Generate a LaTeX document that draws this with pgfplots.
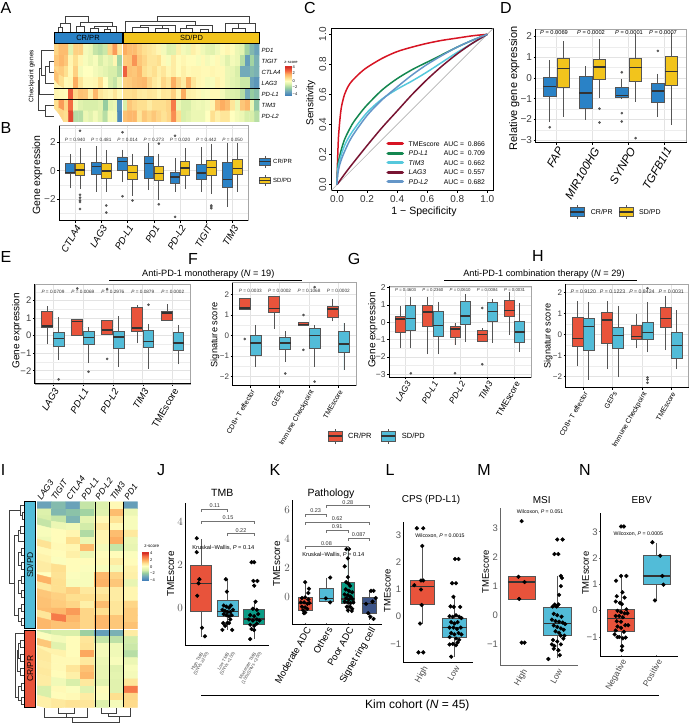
\documentclass[border=0pt]{standalone}
\usepackage{fontspec}
\setmainfont{Liberation Sans}
\usepackage{pgfplots}
\usepgfplotslibrary{statistics}
\pgfplotsset{compat=1.18}

\definecolor{cB}{HTML}{2A82C6}
\definecolor{cY}{HTML}{F2C41C}
\definecolor{cR}{HTML}{E8533B}
\definecolor{cC}{HTML}{52BCD8}
\definecolor{cT}{HTML}{0A9C86}
\definecolor{cN}{HTML}{3C5488}
\definecolor{boxln}{HTML}{555555}

\newcommand{\fs}[1]{\fontsize{#1}{#1}\selectfont}

\pgfplotsset{
  colormap={hm}{rgb255(0)=(69,130,185) rgb255(1)=(115,170,185) rgb255(2)=(150,205,160) rgb255(3)=(217,239,170)
    rgb255(4)=(255,255,191) rgb255(5)=(254,224,144) rgb255(6)=(253,174,97) rgb255(7)=(244,109,67) rgb255(8)=(215,48,39)},
  geom/.code n args={4}{%
    \pgfmathsetmacro\gw{#3-#1}\pgfmathsetmacro\gh{#4-#2}\pgfmathsetmacro\gy{723-#4}%
    \edef\tmp{\noexpand\pgfplotsset{scale only axis,anchor=south west,at={(#1pt,\gy pt)},width=\gw pt,height=\gh pt}}\tmp},
  base/.style={tick align=outside,major tick length=2pt,minor tick length=0pt,
    tick style={black,line width=.5pt},xtick pos=bottom,ytick pos=left,
    yticklabel style={inner sep=1.5pt}},
  rotx/.style={xticklabel style={rotate=60,anchor=north east,inner sep=1pt}},
  gridded/.style={base,rotx,xmajorgrids,ymajorgrids,yminorgrids,
    major grid style={black!11,line width=.7pt},minor grid style={black!7,line width=.4pt},
    axis line style={black!35,line width=.8pt},
    extra description/.code={\draw[black,line width=1pt] (rel axis cs:0,1)--(rel axis cs:0,0)--(rel axis cs:1,0);},
    boxplot/draw direction=y,boxplot/box extend=0.36,boxplot/whisker extend=0},
  clean/.style={base,rotx,axis lines=left,axis line style={-,black,line width=.9pt},major tick length=1.5pt,
    tick style={black!60},yticklabel style={black!65},xticklabel style={black!70},
    boxplot/draw direction=y,boxplot/box extend=0.77,boxplot/whisker extend=0},
  heat/.style={hide axis,enlargelimits=false,colormap name=hm,point meta min=-4,point meta max=4,y dir=reverse},
  outl/.style={only marks,mark=*,mark size=1.1pt,boxln,mark options={draw=boxln,fill=boxln}},
  dots/.style={only marks,mark=*,mark size=1.9pt,mark options={draw=black,fill=black}},
  dend/.style={black!75,line width=.55pt,unbounded coords=jump},
  rocl/.style={smooth,line width=1.5pt},
}

% box: position, whiskers and quartiles, then fill
\newcommand{\bx}[8][]{\addplot[draw=boxln,line width=.8pt,fill=#8,
  boxplot prepared={draw direction=y,draw position=#2,lower whisker=#3,lower quartile=#4,median=#5,upper quartile=#6,upper whisker=#7,
  every median/.style={draw=black!80,line width=1.3pt},#1}] coordinates {};}
\newcommand{\pv}[4][4.7]{\node[font=\fs{#1},black!80] at (axis cs:#2,#3) {{\itshape P} = #4};}
\newcommand{\rect}[5]{\addplot[#5] coordinates {(#1,#2)(#3,#2)(#3,#4)(#1,#4)} -- cycle;}
\newcommand{\brk}[4]{\addplot[black!55,line width=.8pt] coordinates {(#1,#3+2.5)(#1,#3)(#2,#3)(#2,#3+2.5)};
  \node[font=\fs{5.5},black!80] at (axis cs:{(#1+#2)/2},{#3-3.3}) {#4};}
\newcommand{\txt}[4][]{\node[inner sep=0pt,#1] at (axis cs:#2,#3) {#4};}

\begin{document}
\begin{tikzpicture}
\path[use as bounding box] (0pt,0pt) rectangle (689pt,723pt);

% A heatmap: 14 CR/PR then 28 SD/PD columns
\begin{axis}[heat,geom={54}{44}{259.5}{122},xmin=-.5,xmax=41.5,ymin=-.5,ymax=6.5]
\addplot[matrix plot*,mesh/cols=42,point meta=\thisrow{z}] table[row sep=\\,x expr={mod(\coordindex,42)},y expr={floor(\coordindex/42)}]{
z\\
1.2\\1.7\\1.7\\-0.8\\1.3\\1.3\\-0.3\\-0.5\\-1.3\\-1.5\\-1.2\\1.2\\2.3\\0.8\\
2.0\\1.7\\1.7\\1.3\\1.0\\0.8\\0.6\\0.3\\-0.3\\-0.9\\-0.8\\0.5\\-0.3\\-0.5\\0.5\\0.2\\-0.4\\-0.7\\-0.8\\-0.4\\0.1\\0.3\\0.1\\-0.5\\-0.7\\-1.8\\-2.6\\-3.2\\
1.5\\1.8\\1.5\\0.3\\1.0\\0.3\\-0.2\\-0.5\\-0.2\\-1.0\\-0.5\\-0.8\\0.3\\-1.8\\
1.4\\1.5\\2.4\\1.5\\1.2\\0.8\\0.8\\1.0\\0.2\\-0.2\\0.6\\0.1\\0.3\\0.1\\0.1\\-0.2\\0.2\\-0.3\\-0.1\\0.2\\-0.3\\-0.8\\-0.3\\-0.5\\-1.5\\-3.3\\-1.8\\-2.8\\
1.2\\1.4\\1.0\\0.2\\1.3\\-0.3\\0\\0\\-0.3\\-0.5\\-0.7\\-1\\-1\\-1.5\\
3.2\\1.6\\1.5\\1.8\\1.0\\0.7\\1\\0.5\\0.8\\0.3\\0.6\\0.1\\0.5\\0.2\\0.3\\0.3\\0.2\\0.2\\0.3\\0.2\\0.2\\-0.5\\-0.6\\-1\\-3\\-3\\-2.5\\-2.8\\
1.6\\1.0\\0.2\\0.3\\2.0\\0.8\\0.2\\0.2\\0.3\\1\\0\\-1\\-1.3\\-0.5\\
1.3\\1.4\\1.6\\1.7\\1.8\\1.2\\0.7\\0.4\\1.2\\0.8\\2\\1.2\\0.6\\1.9\\0.8\\0.3\\0.2\\-0.3\\-0.2\\0.4\\0.2\\-0.5\\-0.7\\-0.9\\-1.2\\-1.2\\-3.2\\-3.5\\
0.3\\0.2\\0.1\\3.3\\1.2\\1.6\\1.5\\0.5\\1.8\\0.8\\0.5\\0.3\\0.8\\0.2\\
1\\1\\1.1\\0.7\\0.6\\0.8\\0.7\\0.3\\0.8\\0.7\\1.3\\0.3\\2\\0.5\\0.4\\0.2\\-0.2\\-0.1\\0.2\\0.2\\-0.3\\-0.8\\-0.9\\-1\\-1.5\\-3\\-2\\-2.4\\
1.0\\2.3\\1.2\\3\\-0.3\\-0.8\\-1\\-1\\-1\\-0.8\\-2\\-0.7\\-0.5\\-3.5\\
-1\\1.5\\1.2\\1\\1\\0.6\\1\\1\\1\\1.2\\2.8\\-0.5\\-1\\-1\\-0.5\\-0.4\\-0.5\\-0.3\\0.3\\1.6\\2\\1.7\\0.8\\-0.5\\1.5\\1.8\\-0.5\\-2.2\\
1.0\\1.2\\1\\3.6\\-1.5\\-1.5\\-0.5\\-0.8\\-0.3\\-0.8\\-1.5\\-0.3\\-0.3\\-3.8\\
1.6\\1.8\\1.8\\0.8\\1.5\\1.2\\1.5\\1.2\\0.9\\1.2\\2.5\\1\\-1\\-0.8\\-0.5\\-0.5\\-0.5\\0\\1\\0.5\\0.8\\0.8\\0\\-0.3\\-0.5\\-1\\-1\\-1.5\\
};
\end{axis}

% I heatmap: 18 SD/PD then 11 CR/PR rows
\begin{axis}[heat,geom={37}{501.7}{137.7}{707.3},xmin=-.5,xmax=6.5,ymin=-.5,ymax=28.5]
\addplot[matrix plot*,mesh/cols=7,point meta=\thisrow{z}] table[row sep=\\,x expr={mod(\coordindex,7)},y expr={floor(\coordindex/7)}]{
z\\
-3.2\\-2.5\\-3.2\\-1.3\\-0.9\\0.2\\-3.3\\
-0.9\\-2.6\\-2.3\\-1.8\\-0.8\\1.7\\-0.5\\
-1\\-1.3\\-2.7\\-0.7\\0.2\\0.9\\-0.2\\
-1.3\\-0.5\\-0.4\\-1.1\\0.7\\0.2\\-0.2\\
-0.2\\0.1\\0.3\\-1.6\\0.3\\1.7\\0.7\\
-0.4\\0.1\\1\\-0.5\\0.3\\2\\-0.5\\
0.9\\0.2\\0.3\\1.7\\-0.3\\-1.3\\-0.6\\
0.2\\0.1\\0.5\\-0.5\\0.1\\0.1\\-0.1\\
0.4\\-0.1\\0.1\\0.1\\0.2\\0.6\\0.1\\
0.6\\1\\0.1\\-0.1\\-0.2\\-0.3\\0.4\\
0\\0.9\\-0.1\\-0.2\\1.8\\1.2\\0.5\\
1.9\\1\\-0.2\\-0.2\\1.9\\1.5\\-0.6\\
0.7\\1\\1.3\\0.7\\0.7\\0.6\\0.3\\
1.5\\1.3\\1\\1\\1\\0.6\\0.3\\
1.6\\1.4\\1.2\\0.5\\1.7\\0.8\\1.2\\
1.7\\1.8\\2.3\\1.2\\1\\0.8\\1.4\\
0.8\\2.8\\1.8\\1.2\\1.8\\1.5\\1.4\\
1.8\\1.6\\1.6\\1.2\\1.8\\1.5\\1.6\\
-1.2\\-1\\-1\\-1.9\\-3.3\\-2.8\\0.6\\
-0.1\\-0.3\\0.1\\0.8\\-1.3\\-1.4\\-1.1\\
1.5\\-0.8\\0.1\\0.9\\-0.3\\-0.4\\-1.2\\
0.4\\0.4\\0.1\\2.1\\-0.3\\-0.4\\-1.5\\
0.7\\0.2\\0.2\\0.7\\-0.5\\-0.2\\-0.5\\
0.6\\0.2\\0.8\\1.6\\-0.6\\-0.8\\-0.2\\
0.7\\0.1\\0.5\\1.8\\-0.6\\-0.7\\-0.3\\
0.6\\-0.4\\-1\\0.7\\-0.8\\-0.8\\0.8\\
-1\\0.2\\-0.1\\-0.8\\0.1\\-0.8\\2.8\\
-1\\0.1\\0.2\\0.6\\-0.1\\1\\1.2\\
0.5\\0.7\\0.9\\0.8\\-0.9\\-0.3\\1.1\\
};
\end{axis}

% z-score bars
\begin{axis}[hide axis,enlargelimits=false,colormap name=hm,point meta min=-4,point meta max=4,geom={285}{66}{291}{96},xmin=0,xmax=1,ymin=-4.4,ymax=4.4]
\addplot[surf,shader=interp,mesh/cols=2,point meta=y] coordinates {(0,-4.4)(1,-4.4)(0,-4)(1,-4)(0,-3)(1,-3)(0,-2)(1,-2)(0,-1)(1,-1)(0,0)(1,0)(0,1)(1,1)(0,2)(1,2)(0,3)(1,3)(0,4)(1,4)(0,4.4)(1,4.4)};
\end{axis}
\begin{axis}[hide axis,enlargelimits=false,colormap name=hm,point meta min=-4,point meta max=4,geom={141.7}{551.7}{148.7}{581},xmin=0,xmax=1,ymin=-4.4,ymax=4.4]
\addplot[surf,shader=interp,mesh/cols=2,point meta=y] coordinates {(0,-4.4)(1,-4.4)(0,-4)(1,-4)(0,-3)(1,-3)(0,-2)(1,-2)(0,-1)(1,-1)(0,0)(1,0)(0,1)(1,1)(0,2)(1,2)(0,3)(1,3)(0,4)(1,4)(0,4.4)(1,4.4)};
\end{axis}

% B
\begin{axis}[gridded,geom={59.3}{125.7}{248.3}{220.7},xmin=.4,xmax=7.6,ymin=-3.52,ymax=3.16,
  xtick={1,...,7},xticklabels={CTLA4,LAG3,PD-L1,PD1,PD-L2,TIGIT,TIM3},ytick={-2,0,2},yticklabels={−2,0,2},minor ytick={-3,-1,1,3},
  xticklabel style={font=\fs{9.5}\itshape},yticklabel style={font=\fs{10},black!70}]
\bx{.81}{-1.25}{-.2}{-.15}{.53}{1.14}{cB}
\bx{1.19}{-1.3}{-.33}{.05}{.49}{1.6}{cY}
\bx{1.81}{-1.5}{-.28}{.27}{.6}{1.72}{cB}
\bx{2.19}{-1.5}{-.58}{-.02}{.53}{1.46}{cY}
\bx{2.81}{-.8}{0}{.66}{.95}{1.47}{cB}
\bx{3.19}{-1.8}{-.63}{-.13}{.37}{1.2}{cY}
\bx{3.81}{-1.37}{-.56}{.52}{1}{1.93}{cB}
\bx{4.19}{-2.05}{-.67}{-.2}{.33}{1.2}{cY}
\bx{4.81}{-1.5}{-.9}{-.45}{-.1}{.9}{cB}
\bx{5.19}{-1.3}{-.33}{.18}{.65}{1.6}{cY}
\bx{5.81}{-1.5}{-.63}{-.17}{.42}{1.65}{cB}
\bx{6.19}{-1.65}{-.37}{.2}{.72}{1.9}{cY}
\bx{6.81}{-2.55}{-1.2}{-.6}{.55}{1.93}{cB}
\bx{7.19}{-1.5}{-.28}{.17}{.82}{1.93}{cY}
\addplot[outl] coordinates {(1.19,2.8)(1.19,-1.7)(1.19,-1.9)(1.19,-2.1)(1.19,-2.2)(1.19,-2.7)(2.19,-2.45)(2.19,-2.95)(2.81,2.7)(2.81,-1.8)(3.19,-2.1)(4.19,1.9)(4.19,-2.37)(4.81,2.45)(4.81,-3.25)(6.19,-2.45)(6.19,-2.55)(6.19,-2.65)};
\pv{1}{2.19}{0.940}\pv{2}{2.19}{0.481}\pv{3}{2.19}{0.014}\pv{4}{2.19}{0.273}\pv{5}{2.19}{0.020}\pv{6}{2.19}{0.442}\pv{7}{2.19}{0.050}
\end{axis}

% C
\begin{axis}[base,geom={331}{28.3}{493.3}{190.7},xmin=-.04,xmax=1.04,ymin=-.04,ymax=1.04,axis line style={black,line width=.9pt},
  xtick={0,.2,.4,.6,.8,1},ytick={0,.2,.4,.6,.8,1},xticklabels={0.0,0.2,0.4,0.6,0.8,1.0},yticklabels={0.0,0.2,0.4,0.6,0.8,1.0},
  xticklabel style={anchor=north,font=\fs{10},black!80,inner sep=2.5pt},
  yticklabel style={rotate=90,anchor=south,font=\fs{10},black!80,inner sep=2.5pt}]
\addplot[black!30,line width=.6pt] coordinates {(-.04,-.04)(1.04,1.04)};
\addplot[rocl,color={rgb,255:red,215;green,20;blue,35}] coordinates {(0,0)(.002,.1)(.005,.2)(.01,.32)(.02,.44)(.03,.52)(.05,.6)(.075,.655)(.1,.69)(.15,.74)(.2,.78)(.3,.84)(.4,.885)(.5,.915)(.6,.94)(.7,.96)(.8,.975)(.9,.99)(1,1)};
\addplot[rocl,color={rgb,255:red,20;green,135;blue,80}] coordinates {(0,0)(.005,.12)(.02,.2)(.05,.3)(.1,.4)(.15,.47)(.2,.53)(.3,.63)(.4,.705)(.5,.765)(.6,.815)(.7,.865)(.8,.915)(.9,.96)(1,1)};
\addplot[rocl,color={rgb,255:red,85;green,200;blue,220}] coordinates {(0,0)(.005,.1)(.02,.17)(.05,.26)(.1,.35)(.2,.48)(.3,.57)(.4,.635)(.5,.69)(.6,.75)(.7,.815)(.8,.88)(.9,.94)(1,1)};
\addplot[rocl,color={rgb,255:red,120;green,20;blue,50}] coordinates {(0,0)(.05,.07)(.1,.135)(.2,.26)(.3,.38)(.4,.49)(.5,.6)(.6,.7)(.7,.79)(.8,.87)(.9,.94)(1,1)};
\addplot[rocl,color={rgb,255:red,100;green,150;blue,200}] coordinates {(0,0)(.005,.07)(.02,.14)(.05,.22)(.1,.32)(.2,.46)(.3,.565)(.4,.65)(.5,.73)(.6,.8)(.7,.86)(.8,.915)(.9,.96)(1,1)};
\addplot[line width=3.4pt,line cap=round,color={rgb,255:red,215;green,20;blue,35}] coordinates {(.34,.272)(.435,.272)};
\addplot[line width=3.4pt,line cap=round,color={rgb,255:red,20;green,135;blue,80}] coordinates {(.34,.208)(.435,.208)};
\addplot[line width=3.4pt,line cap=round,color={rgb,255:red,85;green,200;blue,220}] coordinates {(.34,.146)(.435,.146)};
\addplot[line width=3.4pt,line cap=round,color={rgb,255:red,120;green,20;blue,50}] coordinates {(.34,.082)(.435,.082)};
\addplot[line width=3.4pt,line cap=round,color={rgb,255:red,100;green,150;blue,200}] coordinates {(.34,.02)(.435,.02)};
\txt[anchor=west,font=\fs{6.8}]{.476}{.272}{TMEscore}\txt[anchor=west,font=\fs{6.8}\itshape]{.476}{.208}{PD-L1}\txt[anchor=west,font=\fs{6.8}\itshape]{.476}{.146}{TIM3}\txt[anchor=west,font=\fs{6.8}\itshape]{.476}{.082}{LAG3}\txt[anchor=west,font=\fs{6.8}\itshape]{.476}{.02}{PD-L2}
\txt[anchor=west,font=\fs{6.8}]{.71}{.272}{AUC =\ \ 0.866}\txt[anchor=west,font=\fs{6.8}]{.71}{.208}{AUC =\ \ 0.709}\txt[anchor=west,font=\fs{6.8}]{.71}{.146}{AUC =\ \ 0.662}\txt[anchor=west,font=\fs{6.8}]{.71}{.082}{AUC =\ \ 0.557}\txt[anchor=west,font=\fs{6.8}]{.71}{.02}{AUC =\ \ 0.682}
\end{axis}

% D
\begin{axis}[gridded,geom={535.7}{29.3}{686.7}{142.7},xmin=.42,xmax=4.61,ymin=-3.12,ymax=2.34,
  xtick={1,...,4},xticklabels={FAP,MIR100HG,SYNPO,TGFB1I1},ytick={-3,...,2},yticklabels={−3,−2,−1,0,1,2},minor ytick={-2.5,-1.5,-.5,.5,1.5},
  xticklabel style={font=\fs{11.5}\itshape},yticklabel style={font=\fs{10},black!75},boxplot/box extend=.35]
\bx{.81}{-2.13}{-.87}{-.43}{0}{.85}{cB}
\bx{1.19}{-1.88}{-.47}{.45}{.93}{1.77}{cY}
\bx{1.81}{-2.02}{-1.48}{-.73}{.05}{.56}{cB}
\bx{2.19}{-.95}{-.08}{.53}{.89}{1.87}{cY}
\bx{2.81}{-1}{-.92}{-.85}{-.47}{-.03}{cB}
\bx{3.19}{-1.16}{-.19}{.5}{.93}{2.1}{cY}
\bx{3.81}{-1.88}{-1.16}{-.63}{-.27}{.2}{cB}
\bx{4.19}{-2.28}{-.35}{.3}{1.02}{2.15}{cY}
\addplot[outl] coordinates {(.81,-2.38)(2.19,-1.48)(2.19,-2.15)(2.81,.27)(2.81,-1.7)(2.81,-2.1)(3.19,-2.9)(3.81,1.3)};
\end{axis}

% E
\begin{axis}[gridded,geom={35}{284}{190.7}{384},xmin=.4,xmax=5.6,ymin=-2.76,ymax=2.95,
  xtick={1,...,5},xticklabels={LAG3,PD-L1,PD-L2,TIM3,\upshape TMEscore},ytick={-2,...,2},yticklabels={−2,−1,0,1,2},minor ytick={-2.5,-1.5,-.5,.5,1.5,2.5},
  xticklabel style={font=\fs{9.5}\itshape},yticklabel style={font=\fs{9.5},black!75}]
\bx{.81}{-.5}{.48}{.55}{1.37}{1.68}{cR}
\bx{1.19}{-1.39}{-.63}{-.15}{.19}{1.09}{cC}
\bx{1.81}{.04}{.04}{.8}{.93}{.93}{cR}
\bx{2.19}{-1.54}{-.5}{-.1}{.23}{.51}{cC}
\bx{2.81}{.06}{.06}{.33}{.86}{.86}{cR}
\bx{3.19}{-1.77}{-.72}{-.07}{.23}{1.12}{cC}
\bx{3.81}{-.44}{.27}{.43}{1.6}{1.75}{cR}
\bx{4.19}{-1.9}{-.69}{-.33}{.29}{.65}{cC}
\bx{4.81}{.9}{.9}{1.3}{1.41}{1.79}{cR}
\bx{5.19}{-1.64}{-.82}{-.42}{.19}{.61}{cC}
\addplot[outl] coordinates {(1.19,-2.5)(1.81,2.69)(2.19,-2.06)(2.81,2.66)(2.81,-1.33)(4.19,1.77)};
\pv{1}{2.5}{0.0709}\pv{2}{2.5}{0.0069}\pv{3}{2.5}{0.2976}\pv{4}{2.5}{0.0879}\pv{5}{2.5}{0.0002}
\end{axis}

% F
\begin{axis}[gridded,geom={232.7}{282.7}{356}{385.7},xmin=.4,xmax=4.6,ymin=-2.45,ymax=2.58,
  xtick={1,...,4},xticklabels={CD8+ T effector,GEPs,Immune Checkpoint,TMEscore},ytick={-2,...,2},yticklabels={−2,−1,0,1,2},minor ytick={-1.5,-.5,.5,1.5},
  xticklabel style={font=\fs{7}},yticklabel style={font=\fs{8},black!75},boxplot/box extend=.37]
\bx{.81}{1.3}{1.3}{1.35}{1.79}{1.79}{cR}
\bx{1.19}{-1.52}{-.95}{-.36}{0}{.52}{cC}
\bx{1.81}{.33}{1.13}{1.33}{1.92}{1.95}{cR}
\bx{2.19}{-1.28}{-.7}{-.36}{-.1}{.2}{cC}
\bx{2.81}{.48}{.48}{.55}{.65}{.65}{cR}
\bx{3.19}{-1.52}{-.62}{0}{.36}{.52}{cC}
\bx{3.81}{.69}{.89}{1.3}{1.43}{1.79}{cR}
\bx{4.19}{-1.69}{-.84}{-.42}{.2}{.6}{cC}
\addplot[outl] coordinates {(.81,-.17)(2.19,-1.85)(2.81,1)(2.81,-.7)(3.19,2.36)(3.19,-2.25)};
\pv{1}{2.16}{0.0033}\pv{2}{2.16}{0.0002}\pv{3}{2.16}{0.1068}\pv{4}{2.16}{0.0002}
\end{axis}

% G
\begin{axis}[gridded,geom={389.3}{286}{531}{377.3},xmin=.4,xmax=5.6,ymin=-3.17,ymax=2.1,
  xtick={1,...,5},xticklabels={LAG3,PD-L1,PD-L2,TIM3,\upshape TMEscore},ytick={-3,...,2},yticklabels={−3,−2,−1,0,1,2},minor ytick={-2.5,-1.5,-.5,.5,1.5},
  xticklabel style={font=\fs{8.5}\itshape},yticklabel style={font=\fs{8.5},black!75},boxplot/box extend=.37]
\bx{.81}{-1.5}{-.6}{.2}{.33}{.96}{cR}
\bx{1.19}{-1.5}{-.44}{.22}{.96}{1.48}{cC}
\bx{1.81}{-1.85}{-.25}{.6}{.96}{1.48}{cR}
\bx{2.19}{-1.85}{-.83}{-.2}{.65}{1.2}{cC}
\bx{2.81}{-1.3}{-.88}{-.38}{-.21}{-.06}{cR}
\bx{3.19}{-1.12}{-.1}{.37}{1.19}{1.63}{cC}
\bx{3.81}{-1.12}{-1.12}{-.72}{-.44}{-.35}{cR}
\bx{4.19}{-1.17}{.04}{.63}{1.17}{1.33}{cC}
\bx{4.81}{-.73}{.33}{.7}{1.29}{1.77}{cR}
\bx{5.19}{-1.69}{-1.15}{-.55}{.08}{1.13}{cC}
\addplot[outl] coordinates {(1.19,-2.94)(2.81,-2.94)(3.81,.83)(3.81,-2.42)};
\pv[4.3]{1}{1.87}{0.4603}\pv[4.3]{2}{1.87}{0.2360}\pv[4.3]{3}{1.87}{0.0610}\pv[4.3]{4}{1.87}{0.0084}\pv[4.3]{5}{1.87}{0.0031}
\end{axis}

% H
\begin{axis}[gridded,geom={565.7}{284}{688.8}{387.7},xmin=.4,xmax=4.6,ymin=-2.54,ymax=2.4,
  xtick={1,...,4},xticklabels={CD8+ T effector,GEPs,Immune Checkpoint,TMEscore},ytick={-2,...,2},yticklabels={−2,−1,0,1,2},minor ytick={-1.5,-.5,.5,1.5},
  xticklabel style={font=\fs{7}},yticklabel style={font=\fs{8},black!75},boxplot/box extend=.37]
\bx{.81}{-1.51}{-.59}{-.18}{.81}{1.59}{cR}
\bx{1.19}{-2.17}{-.75}{.38}{.75}{1.52}{cC}
\bx{1.81}{-1.67}{-.43}{.68}{1.05}{1.59}{cR}
\bx{2.19}{-2.05}{-.65}{-.05}{.35}{1.37}{cC}
\bx{2.81}{-.67}{-.24}{-.1}{.43}{.95}{cR}
\bx{3.19}{-.86}{-.24}{.1}{.59}{1.54}{cC}
\bx{3.81}{-.75}{.35}{.74}{1.3}{1.84}{cR}
\bx{4.19}{-1.67}{-1.14}{-.53}{.1}{1.14}{cC}
\addplot[outl] coordinates {(3.19,2.2)(3.19,-2.05)(3.19,-2.15)(3.19,-2.3)};
\pv[5.2]{1}{2.02}{0.9120}\pv[5.2]{2}{2.02}{0.1223}\pv[5.2]{3}{2.02}{0.8424}\pv[5.2]{4}{2.02}{0.0031}
\end{axis}

% J
\begin{axis}[clean,geom={185.3}{503}{269.3}{645.7},xmin=.4,xmax=3.57,ymin=-1.78,ymax=4.9,
  xtick={1,2,3},xticklabels={{High TMB\\(SNVs ≥200)},{Low TMB\\(SNVs <100)},{Moderate TMB\\(100≤SNVs <200)}},ytick={0,2,4},
  xticklabel style={font=\fs{4.5},align=center,inner sep=2pt},yticklabel style={font=\fs{11}},boxplot/box extend=.78]
\bx{1}{-1.36}{-.19}{1.14}{1.97}{3.2}{cR}
\bx{2}{-1.04}{-.39}{-.19}{.35}{1.34}{cC}
\bx{3}{-1.47}{-.78}{-.53}{-.07}{.28}{cT}
\addplot[dots] coordinates {(.83,3.25)(.83,2.6)(.93,1.33)(.9,1.14)(.85,.56)(1.03,-.94)(1.14,-1.34)
(1.93,1.33)(1.97,.75)(1.85,.1)(1.95,.05)(2.05,0)(2.12,.1)(1.8,-.1)(1.9,-.15)(2,-.2)(2.1,-.2)(2.2,-.1)(1.85,-.3)(1.95,-.35)(2.05,-.4)(2.15,-.35)(1.83,-.72)(1.98,-.72)(2.05,-.72)(2.1,-.55)(1.8,-1.04)(2.17,-1.04)(1.9,-.85)
(2.9,2.13)(3,2.13)(2.97,1.25)(3.12,1.25)(3,1.03)(3.05,.28)(2.95,-.05)(3.1,-.1)(2.85,-.35)(3,-.4)(3.15,-.3)(2.8,-.55)(2.95,-.6)(3.1,-.55)(3.2,-.6)(2.85,-.8)(3,-.85)(3.1,-.75)(2.9,-1)(3,-1.05)(2.85,-1.47)};
\end{axis}

% K
\begin{axis}[clean,geom={292.3}{500}{381.7}{624},xmin=.4,xmax=4.58,ymin=-1.9,ymax=6.7,
  xtick={1,...,4},xticklabels={Moderate ADC,Others,Poor ADC,Signet ring cell},ytick={0,2,4,6},
  xticklabel style={font=\fs{9.5},black},yticklabel style={font=\fs{11}},boxplot/box extend=.65]
\bx{1}{-1.15}{-.95}{-.46}{-.04}{.97}{cR}
\bx{2}{-.3}{-.3}{-.11}{.58}{1.32}{cC}
\bx{3}{-1.15}{-.46}{-.16}{1}{3.36}{cT}
\bx{4}{-1.62}{-1.15}{-.46}{-.07}{.4}{cN}
\addplot[dots] coordinates {(1,1)(1.18,.55)(1.15,.25)(.85,-.1)(1,-.05)(1.15,-.2)(.8,-.4)(.95,-.4)(1.1,-.5)(1.2,-.45)(.85,-.7)(1,-.75)(1.1,-.85)(.9,-.95)(1,-1.1)(.95,-1.15)
(2.17,1.32)(1.97,-.12)(2.17,-.4)
(2.93,3.3)(3.05,3.3)(3,2.65)(2.85,2.1)(3,1.35)(2.92,1)(3.02,.9)(3.1,.75)(2.9,.5)(3.05,.4)(3.2,.3)(2.85,.15)(3,.1)(3.12,0)(2.92,-.1)(3.05,-.2)(3.2,-.15)(2.85,-.35)(3,-.4)(3.12,-.45)(3.25,-.4)(2.95,-.7)(3.1,-.7)(3.2,-.85)(3,-.95)(3.18,-1)
(4.08,.4)(4.2,.4)(4.3,-.1)(3.85,-.5)(4.15,-.35)(3.95,-1.15)(4.05,-1.4)(4.2,-1.55)};
\end{axis}

% L
\begin{axis}[clean,geom={403.7}{522.3}{473.3}{662.7},xmin=.42,xmax=2.59,ymin=-1.69,ymax=3.47,
  xtick={1,2},xticklabels={High,Low},ytick={-1,...,3},yticklabels={−1,0,1,2,3},
  xticklabel style={font=\fs{8.5}},yticklabel style={font=\fs{9.5}},boxplot/box extend=.76]
\bx{1}{-.25}{.45}{1.1}{1.35}{2.63}{cR}
\bx{2}{-1.47}{-.76}{-.39}{-.06}{.77}{cC}
\addplot[dots] coordinates {(.83,3.25)(1.03,3.25)(1,2.6)(.96,1.33)(1.03,1.33)(.75,1.16)(.96,1)(.98,.43)(.93,-.25)(.88,-1.31)(1.03,-1.31)
(2.02,2.12)(2.13,2.12)(1.93,1.23)(2.05,1.23)(1.97,.73)(1.88,.38)(1.98,.36)(2.18,.36)(1.85,.02)(1.95,0)(2.05,.05)(2.15,0)(2.22,-.05)(1.9,-.2)(2,-.25)(2.1,-.2)(1.85,-.4)(1.97,-.4)(2.08,-.45)(2.2,-.4)(1.9,-.6)(2,-.65)(2.13,-.6)(2.22,-.65)(1.85,-.75)(2.05,-.8)(2.15,-.85)(1.95,-1)(2.05,-1.05)(1.85,-1.02)(2.1,-.95)(1.9,-1.47)};
\end{axis}

% M
\begin{axis}[clean,geom={500.3}{508.3}{578.3}{665.7},xmin=.4,xmax=2.59,ymin=-1.73,ymax=3.67,
  xtick={1,2},xticklabels={High,Low},ytick={-1,...,3},yticklabels={−1,0,1,2,3},axis line style={black!60},
  xticklabel style={font=\fs{8.5}},yticklabel style={font=\fs{9.5}}]
\bx{1}{.55}{.55}{1.14}{1.32}{1.32}{cR}
\bx{2}{-1.48}{-.69}{-.28}{.26}{1.36}{cC}
\addplot[dots] coordinates {(1,3.23)(.91,1.32)(1.08,1.14)(.93,.56)(1,-.94)(1.08,-.94)
(2,2.6)(2.15,2.6)(1.92,2.1)(2.03,2.1)(2.1,1.35)(2.13,1.28)(2.1,1)(2.05,.7)(1.93,.37)(2.03,.37)(1.87,.3)(1.98,.3)(1.9,.05)(2,0)(2.12,-.05)(1.85,-.15)(1.95,-.2)(2.05,-.22)(2.15,-.25)(2.22,-.3)(1.9,-.35)(2,-.4)(2.1,-.45)(2.18,-.5)(1.95,-.55)(2.05,-.6)(2.2,-.7)(2.1,-.7)(1.88,-.85)(2,-.9)(2.17,-.8)(1.85,-1)(1.92,-1.05)(2.1,-1)(1.9,-1.15)(2.03,-1.2)(1.75,-1.5)(2.07,-1.37)};
\end{axis}

% N
\begin{axis}[clean,geom={600}{513.3}{677.7}{656},xmin=.41,xmax=2.59,ymin=-1.72,ymax=3.7,
  xtick={1,2},xticklabels={Negative,Positive},ytick={-1,...,3},yticklabels={−1,0,1,2,3},
  xticklabel style={font=\fs{8.5}},yticklabel style={font=\fs{9.5}}]
\bx{1}{-1.52}{-.77}{-.29}{.06}{1.35}{cR}
\bx{2}{.37}{1}{1.32}{2.1}{2.58}{cC}
\addplot[dots] coordinates {(1,3.2)(1.08,3.2)(1,1.32)(1.15,1.32)(.86,1.14)(1.04,.7)(.88,.55)(1.1,.5)(.85,.35)(.97,.3)(1.02,.25)(1.15,.05)(.9,0)(1,-.05)(1.1,-.1)(.85,-.2)(.95,-.2)(1.05,-.25)(1.18,-.1)(.88,-.4)(1,-.42)(1.12,-.55)(1.2,-.55)(.9,-.6)(1,-.65)(.85,-.75)(1.08,-.8)(.82,-.9)(.95,-1)(1.05,-1.05)(1.13,-1.02)(.9,-1)(1.03,-1.35)(1.02,-1.5)
(1.88,2.6)(2.1,2.09)(2.16,1.32)(2.19,.99)(1.95,.39)};
\end{axis}

% page layer in reference pixels: annotation bars, dendrograms, legends, titles
\begin{axis}[hide axis,geom={0}{0}{689}{723},xmin=0,xmax=689,ymin=0,ymax=723,y dir=reverse,clip=false]
\rect{54}{32}{122}{43}{fill=cB,draw=black,line width=.7pt}
\rect{123.5}{32}{259.5}{43}{fill=cY,draw=black,line width=.7pt}
\txt[font=\fs{7.5}]{88}{37.8}{CR/PR}
\txt[font=\fs{7.5}]{191.5}{37.8}{SD/PD}
\addplot[white,line width=1.1pt] coordinates {(122.8,44)(122.8,122)};
\addplot[black,line width=1pt] coordinates {(54,88.5)(259.5,88.5)};
\addplot[black,line width=1pt] coordinates {(54,99.5)(259.5,99.5)};
\addplot[dend] coordinates {(58,32)(58,27)(62,27)(62,32)(nan,nan)(60,27)(60,23)(70,23)(70,32)(nan,nan)(65,23)(65,16)(88,16)(88,22)(nan,nan)(76,32)(76,26)(84,26)(84,32)(nan,nan)(80,26)(80,22)(112,22)(112,26)(nan,nan)(90,32)(90,28)(98,28)(98,32)(nan,nan)(94,28)(94,26)(116,26)(116,32)(nan,nan)(104,32)(104,29)(110,29)(110,32)(nan,nan)(107,29)(107,26)};
\addplot[dend] coordinates {(157,21)(157,16)(249,16)(249,23)(nan,nan)(125,32)(125,21)(195,21)(195,25)(nan,nan)(132,32)(132,27)(148,27)(148,32)(nan,nan)(140,27)(140,25)(175,25)(175,32)(nan,nan)(155,32)(155,28)(168,28)(168,32)(nan,nan)(162,28)(162,25)(nan,nan)(180,32)(180,28)(192,28)(192,32)(nan,nan)(186,28)(186,25)(212,25)(212,32)(nan,nan)(200,32)(200,29)(208,29)(208,32)(nan,nan)(225,32)(225,23)(255,23)(255,32)(nan,nan)(232,32)(232,28)(245,28)(245,32)(nan,nan)(238,28)(238,23)};
\addplot[dend] coordinates {(54,61)(49,61)(49,72)(54,72)(nan,nan)(49,66)(45,66)(45,83)(54,83)(nan,nan)(45,75)(41,75)(41,50)(54,50)(nan,nan)(41,68)(39,68)(39,94)(54,94)(nan,nan)(39,80)(38,80)(38,110)(45,110)(nan,nan)(54,105)(45,105)(45,116)(54,116)};
\txt[rotate=90,font=\fs{6.5}]{31.7}{76}{Checkpoint genes}
\txt[anchor=west,font=\fs{6}\itshape]{261.5}{50}{PD1}\txt[anchor=west,font=\fs{6}\itshape]{261.5}{61}{TIGIT}\txt[anchor=west,font=\fs{6}\itshape]{261.5}{72}{CTLA4}\txt[anchor=west,font=\fs{6}\itshape]{261.5}{83}{LAG3}\txt[anchor=west,font=\fs{6}\itshape]{261.5}{94}{PD-L1}\txt[anchor=west,font=\fs{6}\itshape]{261.5}{105}{TIM3}\txt[anchor=west,font=\fs{6}\itshape]{261.5}{116}{PD-L2}
\txt[font=\fs{4}]{291}{62}{z-score}
\txt[anchor=west,font=\fs{4}]{292.5}{66.7}{4}\txt[anchor=west,font=\fs{4}]{292.5}{73.5}{2}\txt[anchor=west,font=\fs{4}]{292.5}{80.7}{0}\txt[anchor=west,font=\fs{4}]{292.5}{87.3}{−2}\txt[anchor=west,font=\fs{4}]{292.5}{94.3}{−4}

% panel I furniture
\rect{24.3}{501.7}{35.7}{628.3}{fill=cC,draw=black,line width=.7pt}
\rect{24.3}{630}{35.7}{707.3}{fill=cR,draw=black,line width=.7pt}
\txt[rotate=90,font=\fs{8.5}]{30}{565}{SD/PD}\txt[rotate=90,font=\fs{8.5}]{30}{668.6}{CR/PR}
\addplot[white,line width=1.2pt] coordinates {(37,629.3)(137.7,629.3)};
\addplot[black,line width=.8pt] coordinates {(95,501.7)(95,707.3)};
\addplot[black,line width=.8pt] coordinates {(109.3,501.7)(109.3,707.3)};
\addplot[black,line width=.8pt] coordinates {(123.7,501.7)(123.7,707.3)};
\addplot[dend] coordinates {(24,505)(20,505)(20,515)(22,515)(nan,nan)(24,512)(22,512)(22,519)(24,519)(nan,nan)(20,510)(9.3,510)(9.3,583)(14,583)(nan,nan)(24,526)(20,526)(20,533)(24,533)(nan,nan)(24,541)(18,541)(18,530)(20,530)(nan,nan)(24,548)(21,548)(21,555)(24,555)(nan,nan)(24,562)(21,562)(21,569)(24,569)(nan,nan)(21,552)(18,552)(18,565)(21,565)(nan,nan)(24,576)(21,576)(21,583)(24,583)(nan,nan)(24,590)(21,590)(21,597)(24,597)(nan,nan)(21,580)(18,580)(18,593)(21,593)(nan,nan)(24,604)(21,604)(21,611)(24,611)(nan,nan)(24,618)(21,618)(21,625)(24,625)(nan,nan)(21,608)(18,608)(18,621)(21,621)(nan,nan)(18,615)(14,615)(14,535)(18,535)};
\addplot[dend] coordinates {(24,633)(15,633)(15,697)(18,697)(nan,nan)(24,640)(20,640)(20,647)(24,647)(nan,nan)(24,654)(20,654)(20,661)(24,661)(nan,nan)(20,643)(18,643)(18,658)(20,658)(nan,nan)(24,668)(20,668)(20,675)(24,675)(nan,nan)(20,671)(17,671)(17,650)(18,650)(nan,nan)(24,683)(21,683)(21,690)(24,690)(nan,nan)(24,697)(21,697)(21,704)(24,704)(nan,nan)(21,686)(18,686)(18,700)(21,700)};
\addplot[dend] coordinates {(44,708)(44,717)(87,717)(87,708)(nan,nan)(58,708)(58,713)(74,713)(74,708)(nan,nan)(66,713)(66,717)(nan,nan)(101,708)(101,713)(116,713)(116,708)(nan,nan)(108,713)(108,716)(130.7,716)(130.7,708)(nan,nan)(72,717)(72,722)(119,722)(119,716)};
\txt[rotate=55,anchor=west,font=\fs{8.5}\itshape]{39}{499}{LAG3}\txt[rotate=55,anchor=west,font=\fs{8.5}\itshape]{53}{499}{TIGIT}\txt[rotate=55,anchor=west,font=\fs{8.5}\itshape]{68}{499}{CTLA4}\txt[rotate=55,anchor=west,font=\fs{8.5}\itshape]{83}{499}{PD-L1}\txt[rotate=55,anchor=west,font=\fs{8.5}\itshape]{97}{499}{PD-L2}\txt[rotate=55,anchor=west,font=\fs{8.5}\itshape]{112}{499}{TIM3}\txt[rotate=55,anchor=west,font=\fs{8.5}\itshape]{126}{499}{PD1}
\txt[font=\fs{4.5}]{151.7}{546}{z-score}
\txt[anchor=west,font=\fs{4}]{150}{553.3}{4}\txt[anchor=west,font=\fs{4}]{150}{560}{2}\txt[anchor=west,font=\fs{4}]{150}{566.7}{0}\txt[anchor=west,font=\fs{4}]{150}{573.3}{−2}\txt[anchor=west,font=\fs{4}]{150}{580.5}{−4}

% legends
\bx[box extend=11.5,whisker extend=0]{265}{155.5}{158}{161.5}{165}{167.5}{cB}
\bx[box extend=11.5,whisker extend=0]{265}{174.5}{177}{180.3}{183}{185.5}{cY}
\txt[anchor=west,font=\fs{6}]{273}{161.5}{CR/PR}\txt[anchor=west,font=\fs{6}]{273}{180.3}{SD/PD}
\bx[box extend=14,whisker extend=0]{577}{205}{207.3}{212}{216.7}{219}{cB}
\bx[box extend=14,whisker extend=0]{626}{205}{207.3}{212}{216.7}{219}{cY}
\txt[anchor=west,font=\fs{7}]{590.7}{212}{CR/PR}\txt[anchor=west,font=\fs{7}]{639}{212}{SD/PD}
\bx[box extend=14,whisker extend=0]{335}{429}{431.5}{436}{441}{444}{cR}
\bx[box extend=14,whisker extend=0]{388}{429}{431.5}{436}{441}{444}{cC}
\txt[anchor=west,font=\fs{7.5}]{348}{436}{CR/PR}\txt[anchor=west,font=\fs{7.5}]{401.7}{436}{SD/PD}

% D p values
\txt[font=\fs{5.7}]{554}{33}{{\itshape P} = 0.0069}\txt[font=\fs{5.7}]{591}{33}{{\itshape P} = 0.0002}\txt[font=\fs{5.7}]{629}{33}{{\itshape P} = 0.0001}\txt[font=\fs{5.7}]{663}{33}{{\itshape P} = 0.0007}

% axis titles
\txt[rotate=90,font=\fs{10.5}]{37.3}{175}{Gene expression}
\txt[font=\fs{10.5}]{424}{211.5}{1 − Specificity}
\txt[rotate=90,font=\fs{10}]{310.7}{103}{Sensitivity}
\txt[rotate=90,font=\fs{11}]{514.3}{88.3}{Relative gene expression}
\txt[rotate=90,font=\fs{10}]{16.7}{330.7}{Gene expression}
\txt[rotate=90,font=\fs{9.2}]{215}{335}{Signature score}
\txt[rotate=90,font=\fs{10}]{372.7}{330}{Gene expression}
\txt[rotate=90,font=\fs{9.2}]{548.3}{336}{Signature score}
\txt[rotate=90,font=\fs{10}]{170.7}{574}{TMEscore}
\txt[rotate=90,font=\fs{10}]{276.7}{564}{TMEscore}
\txt[rotate=90,font=\fs{9.5}]{387.3}{590.7}{TMEscore}
\txt[rotate=90,font=\fs{9.5}]{485.7}{571.7}{TMEscore}
\txt[rotate=90,font=\fs{9.5}]{585.7}{573.3}{TMEscore}

% cohort headers
\txt[font=\fs{9.2}]{208.3}{274}{Anti-PD-1 monotherapy ({\itshape N} = 19)}
\addplot[black,line width=.8pt] coordinates {(109.3,280.7)(302.3,280.7)};
\txt[font=\fs{9.2}]{544}{274}{Anti-PD-1 combination therapy ({\itshape N} = 29)}
\addplot[black,line width=.8pt] coordinates {(444,280.7)(636.7,280.7)};
\txt[font=\fs{12}]{417.3}{705}{Kim cohort ({\itshape N} = 45)}
\addplot[black,line width=.8pt] coordinates {(201.3,695)(659,695)};

% J-N titles and tests
\txt[font=\fs{10.5}]{222.3}{492.7}{TMB}\txt[font=\fs{10.5}]{331}{494}{Pathology}\txt[font=\fs{10}]{431}{500}{CPS (PD-L1)}\txt[font=\fs{10}]{541.7}{500}{MSI}\txt[font=\fs{10}]{641.7}{500}{EBV}
\brk{201.7}{227.7}{509.3}{0.11}\brk{201.7}{254.3}{521}{0.15}\brk{227.7}{254.3}{533.7}{0.22}
\txt[font=\fs{5.7}]{223.3}{547.7}{Kruskal−Wallis, {\itshape P} = 0.14}
\brk{305}{326.3}{514.3}{0.23}\brk{326.3}{369.3}{505.7}{0.28}\brk{305}{369.3}{522.3}{0.62}\brk{326.3}{348}{530}{0.91}\brk{348}{369.3}{538.3}{0.087}\brk{305}{348}{546.7}{0.08}
\txt[font=\fs{5.7}]{333.3}{554.3}{Kruskal−Wallis, {\itshape P} = 0.14}
\txt[font=\fs{5.2}]{440}{535.7}{Wilcoxon, {\itshape P} = 0.0015}
\txt[font=\fs{5.2}]{540}{511.7}{Wilcoxon, {\itshape P} = 0.051}
\txt[font=\fs{5.2}]{638.3}{533.7}{Wilcoxon, {\itshape P} = 0.0005}

% panel letters
\txt[font=\fs{16}]{6}{8}{A}\txt[font=\fs{16}]{6}{128}{B}\txt[font=\fs{16}]{310}{8}{C}\txt[font=\fs{16}]{506}{8}{D}
\txt[font=\fs{16}]{6}{257}{E}\txt[font=\fs{16}]{193}{259}{F}\txt[font=\fs{16}]{354}{259}{G}\txt[font=\fs{16}]{538}{256}{H}
\txt[font=\fs{16}]{3}{470}{I}\txt[font=\fs{16}]{161}{470}{J}\txt[font=\fs{16}]{275}{470}{K}\txt[font=\fs{16}]{390}{470}{L}\txt[font=\fs{16}]{484}{470}{M}\txt[font=\fs{16}]{585}{470}{N}
\end{axis}
\end{tikzpicture}
\end{document}
